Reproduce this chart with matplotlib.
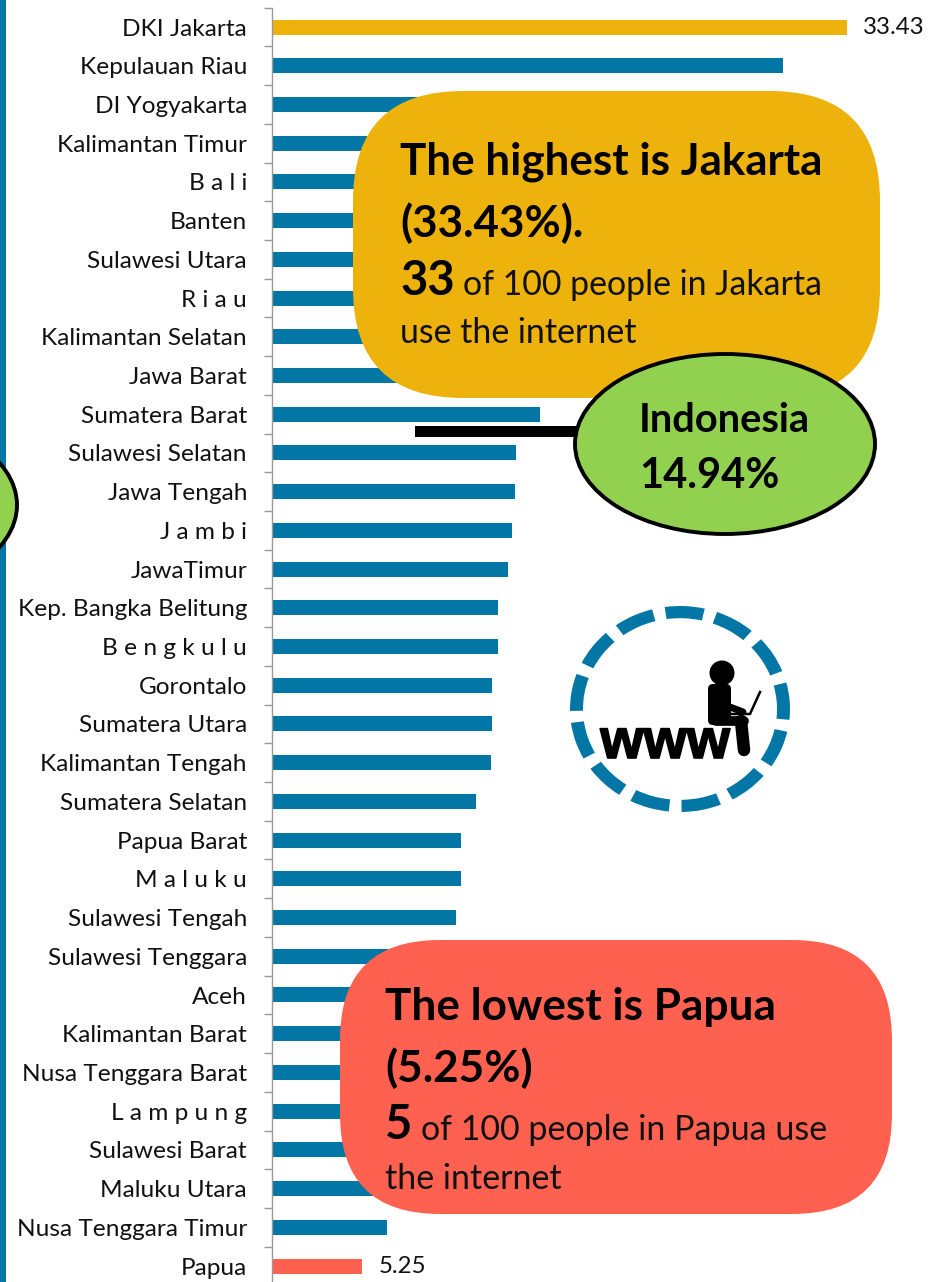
import matplotlib
matplotlib.use("Agg")
import matplotlib.pyplot as plt
import matplotlib.patheffects as pe
from matplotlib.patches import Circle, Ellipse, FancyBboxPatch, Rectangle, Wedge
from matplotlib.transforms import Affine2D

plt.rcParams["font.family"] = ["Lato", "DejaVu Sans"]

provinces = ["DKI Jakarta", "Kepulauan Riau", "DI Yogyakarta", "Kalimantan Timur", "B a l i", "Banten",
             "Sulawesi Utara", "R i a u", "Kalimantan Selatan", "Jawa Barat", "Sumatera Barat",
             "Sulawesi Selatan", "Jawa Tengah", "J a m b i", "JawaTimur", "Kep. Bangka Belitung",
             "B e n g k u l u", "Gorontalo", "Sumatera Utara", "Kalimantan Tengah", "Sumatera Selatan",
             "Papua Barat", "M a l u k u", "Sulawesi Tengah", "Sulawesi Tenggara", "Aceh",
             "Kalimantan Barat", "Nusa Tenggara Barat", "L a m p u n g", "Sulawesi Barat",
             "Maluku Utara", "Nusa Tenggara Timur", "Papua"]
# values behind the two callouts are estimates
values = [33.43, 29.7, 26.0, 23.5, 22.5, 21.0, 20.0, 19.0, 18.0, 16.5, 15.58,
          14.19, 14.13, 13.95, 13.72, 13.14, 13.12, 12.8, 12.79, 12.73, 11.86,
          10.99, 10.98, 10.7, 10.3, 9.8, 9.4, 8.9, 8.5, 8.1, 7.6, 6.69, 5.25]

BLUE = "#0277A6"
GOLD = "#EDB20C"
RED = "#FF6150"
GREEN = "#92D050"
colors = [GOLD] + [BLUE] * 31 + [RED]

W, H = 932, 1282
fig = plt.figure(figsize=(W / 100, H / 100), dpi=100)

# chart axes, placed so that zero sits at x=272 and rows are 38.72 px apart
row = 38.72
top = 27 - row / 2
bottom = top + row * len(provinces)
ax = fig.add_axes([272 / W, 1 - bottom / H, 575 / 33.43 * 40 / W, (bottom - top) / H])
ax.barh(range(len(provinces)), values, height=15 / row, color=colors)
ax.set_xlim(0, 40)
ax.set_ylim(len(provinces) - 0.5, -0.5)
ax.patch.set_alpha(0)
for s in ["top", "right", "bottom"]:
    ax.spines[s].set_visible(False)
ax.spines["left"].set_color("#9a9a9a")
ax.spines["left"].set_linewidth(1)
ax.xaxis.set_visible(False)
ax.set_yticks(range(len(provinces)), provinces, fontsize=17.6, color="#111111")
ax.set_yticks([i - 0.5 for i in range(len(provinces) + 1)], minor=True)
ax.tick_params(axis="y", which="major", length=0, pad=18)
ax.tick_params(axis="y", which="minor", length=6, color="#9a9a9a", width=1)
ax.annotate(f"{values[0]:.2f}", (values[0], 0), xytext=(11.5, 0), textcoords="offset points",
            va="center", fontsize=17.3, color="#111111")
ax.annotate(f"{values[-1]:.2f}", (values[-1], 32), xytext=(11.5, 0), textcoords="offset points",
            va="center", fontsize=17.3, color="#111111")

# overlay in pixel coordinates for the callouts and the icon
ov = fig.add_axes([0, 0, 1, 1])
ov.set_xlim(0, W)
ov.set_ylim(H, 0)
ov.axis("off")
ov.patch.set_alpha(0)

ov.add_patch(Rectangle((0, 0), 6, H, color=BLUE, lw=0))
ov.add_patch(Ellipse((-133, 505), 300, 180, fc=GREEN, ec="black", lw=2.8))

r = 110
ov.add_patch(FancyBboxPatch((353 + r, 91 + r), 527 - 2 * r, 307 - 2 * r,
                            boxstyle=f"round,pad={r},rounding_size={r}", fc=GOLD, ec="none"))
r = 100
ov.add_patch(FancyBboxPatch((340 + r, 940 + r), 552 - 2 * r, 274 - 2 * r,
                            boxstyle=f"round,pad={r},rounding_size={r}", fc=RED, ec="none"))

ov.add_patch(Rectangle((415, 425.5), 170, 11, color="black", lw=0))
ov.add_patch(Ellipse((725, 444), 300, 180, fc=GREEN, ec="black", lw=2.8))

ov.text(400, 162, "The highest is Jakarta", fontsize=31.7, fontweight="bold", va="center", color="black")
ov.text(400, 223, "(33.43%).", fontsize=31.7, fontweight="bold", va="center", color="black")
ov.text(400, 281, "33", fontsize=34, fontweight="bold", va="center", color="black")
ov.text(463, 285, "of 100 people in Jakarta", fontsize=24.4, va="center", color="#111111")
ov.text(400, 333, "use the internet", fontsize=24.4, va="center", color="#111111")

ov.text(639, 421, "Indonesia", fontsize=28.7, fontweight="bold", va="center", color="black")
ov.text(639, 476, "14.94%", fontsize=30, fontweight="bold", va="center", color="black")

ov.text(385, 1007, "The lowest is Papua", fontsize=31.8, fontweight="bold", va="center", color="black")
ov.text(385, 1068, "(5.25%)", fontsize=31.8, fontweight="bold", va="center", color="black")
ov.text(385, 1125, "5", fontsize=34, fontweight="bold", va="center", color="black")
ov.text(421, 1130, "of 100 people in Papua use", fontsize=24.5, va="center", color="#111111")
ov.text(385, 1179, "the internet", fontsize=24.5, va="center", color="#111111")

# www icon, the dashed ring is slightly flattened
ring = Affine2D().scale(1, 103 / 110).translate(680, 709) + ov.transData
for i in range(13):
    start = 77 - i * 360 / 13
    ov.add_patch(Wedge((0, 0), 110, -start - 21, -start, width=13, fc=BLUE, ec="none", transform=ring))
ov.add_patch(Circle((722, 673), 12.5, fc="black", ec="none"))
ov.add_patch(FancyBboxPatch((712, 688), 15, 33, boxstyle="round,pad=4,rounding_size=5", fc="black", ec="none"))
ov.plot([730, 743], [707, 712], color="black", lw=5, solid_capstyle="round")
ov.plot([716, 744], [721, 721], color="black", lw=7, solid_capstyle="round")
ov.plot([741, 744], [721, 750], color="black", lw=9, solid_capstyle="round")
ov.plot([760, 750, 732], [692, 714, 714], color="black", lw=1.8)
ov.text(665, 744, "www", fontsize=40, fontweight="bold", family="Liberation Sans", ha="center", va="center",
        color="black", path_effects=[pe.withStroke(linewidth=1.2, foreground="black")])

fig.savefig("out.png", dpi=100)
